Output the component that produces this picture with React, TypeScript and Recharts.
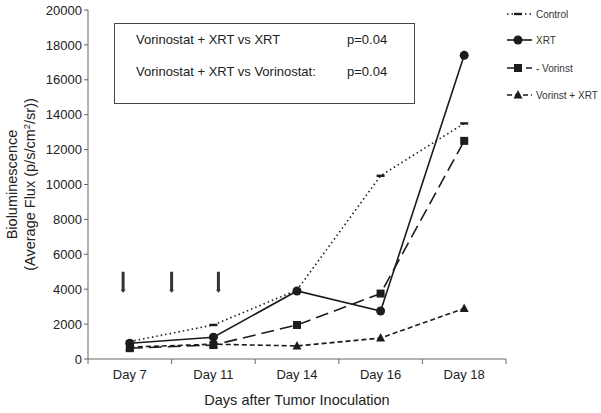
import { LineChart, Line, XAxis, YAxis, ReferenceLine } from 'recharts'

const dayLabels = ['Day 7', 'Day 11', 'Day 14', 'Day 16', 'Day 18']
const control = [1000, 1950, 3950, 10500, 13500]
const xrt = [900, 1250, 3900, 2750, 17400]
const vorinst = [620, 800, 1950, 3750, 12500]
const combo = [680, 850, 750, 1200, 2900]

// treatment arrows, in axis units (x on the category index scale)
const arrowX = [-0.08, 0.5, 1.06]
const arrowTop = 5000
const arrowBottom = 3800

const yTicks = [0, 2000, 4000, 6000, 8000, 10000, 12000, 14000, 16000, 18000, 20000]
const xTicks = [-0.5, 0, 0.5, 1, 1.5, 2, 2.5, 3, 3.5, 4, 4.5]

const data = dayLabels.map((d, i) => ({
  i,
  day: d,
  control: control[i],
  xrt: xrt[i],
  vorinst: vorinst[i],
  combo: combo[i],
}))

const INK = '#1c1c1c'
const AXIS = '#666'
const FONT = 'Arial, "Liberation Sans", Helvetica, sans-serif'

type Marker = 'bar' | 'circle' | 'square' | 'triangle'

const series: { key: string; name: string; dash?: string; marker: Marker }[] = [
  { key: 'control', name: 'Control', dash: '1.5 3', marker: 'bar' },
  { key: 'xrt', name: 'XRT', marker: 'circle' },
  { key: 'vorinst', name: '- Vorinst', dash: '13 6', marker: 'square' },
  { key: 'combo', name: 'Vorinst + XRT', dash: '5 3', marker: 'triangle' },
]

function markerShape(m: Marker, cx: number, cy: number, key?: any) {
  if (m === 'circle') return <circle key={key} cx={cx} cy={cy} r={4.5} fill={INK} stroke="none" />
  if (m === 'square') return <rect key={key} x={cx - 4} y={cy - 4} width={8} height={8} fill={INK} />
  if (m === 'triangle')
    return <path key={key} d={`M${cx},${cy - 5} L${cx + 4.5},${cy + 3.5} L${cx - 4.5},${cy + 3.5} Z`} fill={INK} />
  return <rect key={key} x={cx - 4} y={cy - 1.2} width={8} height={2.4} fill={INK} />
}

function DayTick(props: any) {
  const { x, y, payload } = props
  const v = payload.value
  if (Number.isInteger(v)) {
    return (
      <text x={x} y={y + 20} textAnchor="middle" fontSize={13} fill="#222" fontFamily={FONT}>
        {dayLabels[v]}
      </text>
    )
  }
  return <line x1={x} y1={y} x2={x} y2={y + 5} stroke={AXIS} />
}

function YTitle(props: any) {
  const vb = props.viewBox
  const cy = vb.y + vb.height / 2
  return (
    <g fontFamily={FONT} fontSize={14.5} fill="#222">
      <text x={17} y={cy} textAnchor="middle" transform={`rotate(-90 17 ${cy})`}>
        Bioluminescence
      </text>
      <text x={35} y={cy} textAnchor="middle" transform={`rotate(-90 35 ${cy})`}>
        <tspan>(Average Flux (p/s/cm</tspan>
        <tspan dy={-5} fontSize={9.5}>2</tspan>
        <tspan dy={5}>/sr))</tspan>
      </text>
    </g>
  )
}

function Arrow(props: any) {
  const { x1, y1, x2, y2 } = props
  const top = Math.min(y1, y2)
  const bottom = Math.max(y1, y2)
  return (
    <g>
      <line x1={x1} y1={top} x2={x2} y2={bottom - 2} stroke="#333" strokeWidth={3} />
      <path d={`M${x1 - 2.5},${bottom - 3} L${x1 + 2.5},${bottom - 3} L${x1},${bottom} Z`} fill="#333" />
    </g>
  )
}

function LegendBox() {
  return (
    <svg width={106} height={110} style={{ position: 'absolute', left: 495, top: 0 }}>
      {series.map((s, idx) => {
        const cy = [14, 40, 68, 95][idx]
        return (
          <g key={s.key}>
            <line x1={12} y1={cy} x2={37} y2={cy} stroke={INK} strokeWidth={1.6} strokeDasharray={s.dash} />
            {markerShape(s.marker, 23, cy)}
            <text x={41} y={cy + 3.5} fontSize={10} fill="#333" fontFamily={FONT}>
              {s.name}
            </text>
          </g>
        )
      })}
    </svg>
  )
}

export default function App() {
  return (
    <div style={{ position: 'fixed', left: 0, top: 0, width: 601, height: 413, background: '#fff' }}>
      <LineChart width={601} height={413} data={data} margin={{ top: 10, right: 95, bottom: 0, left: 0 }}>
        <XAxis
          dataKey="i"
          type="number"
          domain={[-0.5, 4.5]}
          ticks={xTicks}
          interval={0}
          tick={<DayTick />}
          tickLine={false}
          tickSize={0}
          tickMargin={0}
          stroke={AXIS}
          height={54}
          label={{
            value: 'Days after Tumor Inoculation',
            position: 'insideBottom',
            offset: 8,
            fontSize: 14.5,
            fill: '#222',
            fontFamily: FONT,
          }}
        />
        <YAxis
          domain={[0, 20000]}
          ticks={yTicks}
          interval={0}
          width={88}
          tickSize={4}
          tickMargin={2}
          stroke={AXIS}
          tick={{ fontSize: 13, fill: '#222', fontFamily: FONT }}
          label={{ content: <YTitle /> }}
        />
        {arrowX.map((x) => (
          <ReferenceLine
            key={x}
            segment={[
              { x, y: arrowTop },
              { x, y: arrowBottom },
            ]}
            shape={<Arrow />}
          />
        ))}
        {series.map((s) => (
          <Line
            key={s.key}
            dataKey={s.key}
            name={s.name}
            stroke={INK}
            strokeWidth={1.6}
            strokeDasharray={s.dash}
            isAnimationActive={false}
            dot={(p: any) => markerShape(s.marker, p.cx, p.cy, `${s.key}-${p.index}`)}
            activeDot={false}
          />
        ))}
      </LineChart>
      <div
        style={{
          position: 'absolute',
          left: 114,
          top: 23,
          width: 299,
          height: 79,
          border: '1px solid #444',
          fontFamily: FONT,
          fontSize: 13,
          color: '#222',
        }}
      >
        <div style={{ position: 'absolute', left: 21, top: 8 }}>Vorinostat + XRT vs XRT</div>
        <div style={{ position: 'absolute', left: 232, top: 8 }}>p=0.04</div>
        <div style={{ position: 'absolute', left: 21, top: 40 }}>Vorinostat + XRT vs Vorinostat:</div>
        <div style={{ position: 'absolute', left: 232, top: 40 }}>p=0.04</div>
      </div>
      <LegendBox />
    </div>
  )
}
